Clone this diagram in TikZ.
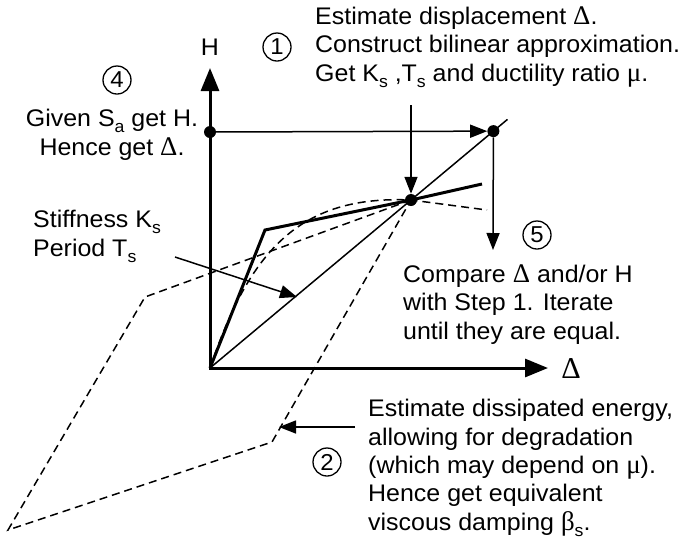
\documentclass[tikz,border=0pt]{standalone}
\usepackage{fontspec}
\setmainfont[FakeStretch=1.04]{Liberation Sans}
\newfontfamily\grkfont[Scale=1.12]{Liberation Serif}
\usetikzlibrary{arrows.meta,calc,positioning}
\newcommand{\gk}[1]{{\grkfont #1}}
\newcommand{\lsub}[1]{\raisebox{-6pt}{\fontsize{17}{17}\selectfont #1}}
\tikzset{
  axisline/.style={line width=3pt,line cap=rect,-{Triangle[length=23pt,width=18pt]}},
  arr/.style={line width=1.5pt,-{Triangle[length=17pt,width=13pt]}},
  thinline/.style={line width=1.5pt},
  thickline/.style={line width=3pt,line join=miter},
  dashline/.style={line width=1.5pt,dash pattern=on 8pt off 5pt},
  dot/.style={circle,fill,inner sep=0pt,minimum size=12pt},
  stepno/.style={circle,draw,line width=1.3pt,inner sep=0pt,minimum size=28pt,font=\fontsize{23}{23}\selectfont},
  note/.style={font=\fontsize{24}{28.3}\selectfont,inner sep=0pt}
}

\begin{document}
\begin{tikzpicture}[x=1pt,y=-1pt]
\useasboundingbox (0,0) rectangle (682,539);
% axes
\coordinate (O) at (210,368);
\coordinate (Htip) at (210,68);
\coordinate (Dtip) at (548,368);
\draw[axisline] (O) -- (Htip);
\draw[axisline] (O) -- (Dtip);
\node[note] (Hlab) at (210,47) {H};
\node[note,font=\fontsize{27}{27}\selectfont] (Dlab) at (571,369) {\gk{Δ}};
% points
\node[dot] (Hd) at (210,132) {};
\node[dot] (Pk) at (411,200) {};
\coordinate (Tp0) at ($(O)!1.41!(Pk)$);
\node[dot] (Tp) at (Tp0) {};
\coordinate (Send) at ($(O)!1.48!(Pk)$);
% hysteresis loop and backbone
\coordinate (L1) at (145,297);
\coordinate (L2) at (8,530);
\coordinate (L3) at (272,442);
\draw[dashline] (Pk.center) -- (L1) -- (L2) -- (L3) -- cycle;
\coordinate (Bk) at (487,210);
\draw[dashline] (O) .. controls (250,250) and (300,195) .. (Pk.center) -- (Bk);
% bilinear and secant
\coordinate (K) at (265,230);
\coordinate (Bend) at (482,184);
\draw[thickline] (O) -- (K) -- (Pk.center) -- (Bend);
\draw[thinline] (O) -- (Send);
% step arrows
\coordinate (Dtop) at (411,105);
\coordinate (Tend) at (493,250);
\draw[arr] (Dtop) -- (Pk);
\draw[arr] (Hd) -- (Tp);
\draw[arr] (Tp) -- (Tend);
\coordinate (Ks) at (175,257);
\coordinate (Kt) at (297,297);
\draw[arr] (Ks) -- (Kt);
\coordinate (Eq) at (355,427);
\coordinate (Et) at (279,427);
\draw[arr] (Eq) -- (Et);
% step numbers
\node[stepno] (c1) at (277,47) {1};
\node[stepno] (c4) at (117,80) {4};
\node[stepno] (c5) at (537,235) {5};
\node[stepno] (c2) at (327,462) {2};
% texts (anchored at the baseline of the last line)
\node[note,anchor=base west,align=left] (t1) at (315,81) {Estimate displacement \gk{Δ}.\\Construct bilinear approximation.\\Get K\lsub{s} ,T\lsub{s} and ductility ratio \gk{μ}.};
\node[note,anchor=base,align=center] (t4) at (112,155) {Given S\lsub{a} get H.\\Hence get \gk{Δ}.};
\node[note,anchor=base west,align=left] (tk) at (33,256) {Stiffness K\lsub{s}\\Period T\lsub{s}};
\node[note,anchor=base west,align=left] (t5) at (403,339) {Compare \gk{Δ} and/or H\\with Step 1. Iterate\\until they are equal.};
\node[note,anchor=base west,align=left] (t2) at (368,530) {Estimate dissipated energy,\\allowing for degradation\\(which may depend on \gk{μ}).\\Hence get equivalent\\viscous damping \gk{β}\lsub{s}.};
\end{tikzpicture}
\end{document}
